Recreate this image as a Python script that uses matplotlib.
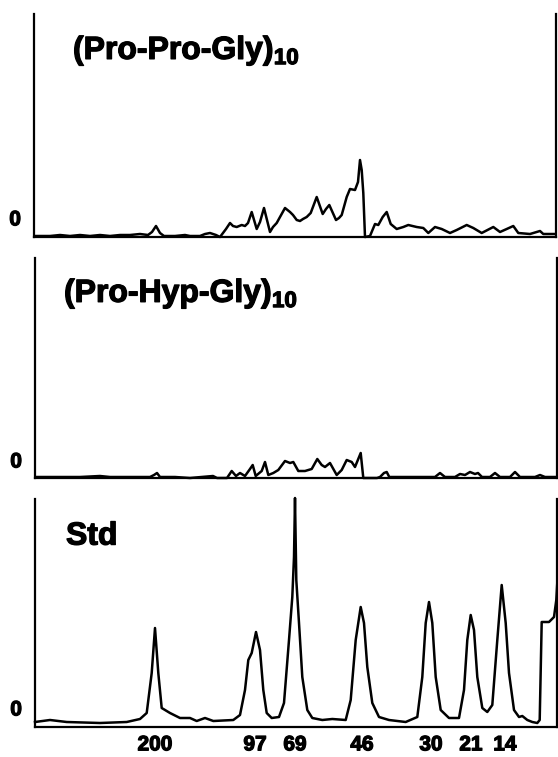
import matplotlib
matplotlib.use("Agg")
import matplotlib.pyplot as plt
import matplotlib.patheffects as pe

plt.rcParams['font.family'] = ['Liberation Sans', 'DejaVu Sans']
plt.rcParams['font.weight'] = 'bold'
plt.rcParams['mathtext.fontset'] = 'custom'
plt.rcParams['mathtext.rm'] = 'Liberation Sans:bold'
plt.rcParams['mathtext.bf'] = 'Liberation Sans:bold'

# densitometer traces: migration position, absorbance height
ppg_x = [36, 50, 60, 70, 80, 90, 100, 110, 120, 130, 140, 148, 152, 156, 160, 164, 175, 185, 190,
         200, 205, 210, 216, 220, 226, 230, 233, 236.7, 241.7, 245, 248, 251.7, 256.7, 260, 264,
         270, 273, 276.7, 280, 285, 290, 293, 296.7, 300, 303, 306.7, 310.7, 316.7, 322.7, 326,
         329.3, 336, 339, 341.7, 346.7, 350, 355, 358, 360, 361.7, 363.3, 365, 370, 375, 378.3,
         382.7, 386.7, 390.7, 396.7, 403.3, 408.3, 416.7, 423.3, 428.3, 435, 441.7, 450, 456.7,
         466.7, 473.3, 481.7, 493.3, 500, 506.7, 513.3, 518.3, 530, 540, 543.3, 555]
ppg_y = [1, 1, 2, 1, 2, 1, 2, 1, 2, 2, 3, 2, 5, 11, 4, 1, 1, 2, 1,
         1, 3, 4, 2, 0, 8, 14, 11, 10, 12, 11, 14, 25, 8, 15, 29,
         5, 10, 14, 20, 29, 25, 22, 17, 16, 18, 20, 24, 40, 23, 28,
         32, 17, 19, 22, 40, 48, 47, 55, 77, 67, 44, 0, 1, 13, 12,
         20, 25, 13, 8, 10, 12, 10, 9, 4, 10, 8, 4, 7,
         12, 9, 4, 10, 5, 8, 11, 4, 3, 6, 3, 3]

phg_x = [36, 60, 80, 100, 110, 130, 150, 154, 157, 160, 175, 190,
         213, 217, 227, 231.7, 236, 240, 245, 250, 252.7, 255.7, 261.7, 265, 268.3, 273.3, 278.3,
         285, 290, 293.3, 298.3, 305, 311.7, 317.3, 321.7, 325, 330, 336.7, 341.7, 346.7, 351.7,
         355, 360.7, 363.3, 377, 380, 384, 386.7, 389.3, 400, 420, 435, 440, 445, 455, 460, 465,
         470, 475, 478, 482, 490, 495, 500, 510, 515, 520, 535, 540, 545, 556]
phg_y = [1, 1, 1, 2, 1, 1, 1, 3, 5, 1, 1, 0,
         2, 0, 0, 7, 2, 5, 2, 9, 13, 2, 7, 16, 3, 5, 8,
         17, 15, 16, 7, 7, 9, 19, 13, 11, 15, 3, 8, 18, 16,
         11, 25, 0, 0, 1, 5, 6, 1, 1, 1, 1, 5, 1, 1, 4, 3,
         6, 4, 5, 1, 1, 5, 1, 1, 6, 1, 1, 3, 1, 1]

std_x = [35, 50, 66.7, 100, 126.7, 140, 146.7, 151.7, 155, 158.3, 161.7, 170, 180, 190, 196.7,
         205, 213.3, 233.3, 240, 245, 248.3, 251.7, 256, 260, 263.3, 266.7, 271.7, 279, 284, 289,
         292.3, 294, 295, 296.3, 299, 302.3, 307.3, 312.3, 322.3, 332.3, 345.7, 350.7, 355.7,
         360.7, 364, 367.3, 372.3, 379, 389, 405.7, 417.3, 422.3, 425.7, 429, 432.3, 435.7,
         440.7, 449, 459, 464, 467.3, 470.7, 474, 477.3, 482.3, 487.3, 492.3, 497.3, 501.7,
         505.7, 509, 514, 519, 522.3, 527.3, 532.3, 537.3, 539.7, 541.7, 549, 554, 556.3, 558]
std_y = [5, 7, 5, 4, 5, 8, 14, 54, 99, 54, 19, 14, 9, 9, 6,
         9, 6, 7, 12, 37, 67, 74, 95, 77, 37, 14, 9, 10, 24, 87,
         130, 170, 229, 147, 104, 50, 17, 9, 7, 8, 7, 27, 87,
         120, 104, 60, 24, 10, 7, 5, 10, 50, 104, 125, 104, 50,
         17, 9, 9, 37, 87, 112, 97, 50, 19, 15, 22, 87, 142,
         104, 54, 17, 10, 11, 7, 5, 4, 7, 105, 105, 110, 127, 157]

marker_pos = [155, 255, 295, 362, 431, 471, 505]
marker_kda = ['200', '97', '69', '46', '30', '21', '14']

panels = [
    ('(Pro-Pro-Gly)$_{\\mathbf{10}}$', ppg_x, ppg_y, 0.0747, 0.798, 0.077),
    ('(Pro-Hyp-Gly)$_{\\mathbf{10}}$', phg_x, phg_y, 0.0556, 0.80, 0.073),
    ('Std', std_x, std_y, 0.0594, 0.80, 0.075),
]

W, H = 558, 757
fig = plt.figure(figsize=(W / 100, H / 100), dpi=100)
heavy = [pe.withStroke(linewidth=0.9, foreground='black')]

# axes boxes in pixels: left, right, top, bottom
boxes = [(34, 556, 14, 237), (35, 557, 258, 478), (35, 557, 499, 727)]

for (title, xs, ys, tx, ty, zy), (l, r, t, b) in zip(panels, boxes):
    ax = fig.add_axes([l / W, 1 - b / H, (r - l) / W, (b - t) / H])
    ax.plot(xs, ys, color='black', lw=1.8, clip_on=False,
            solid_joinstyle='round')
    ax.set_xlim(l, r)
    ax.set_ylim(0, b - t)
    for s in ['left', 'bottom', 'right']:
        ax.spines[s].set_linewidth(1.6)
    ax.spines['top'].set_visible(False)
    ax.set_yticks([])
    ax.set_xticks([])
    ax.text(tx, ty, title, transform=ax.transAxes, fontsize=23,
            fontweight='bold', ha='left', va='baseline', path_effects=heavy)
    ax.text(-0.025, zy, '0', transform=ax.transAxes, fontsize=15,
            fontweight='bold', ha='right', va='center', path_effects=heavy)

ax.set_xticks(marker_pos)
ax.set_xticklabels(marker_kda, fontsize=15, fontweight='bold')
for lbl in ax.get_xticklabels():
    lbl.set_path_effects(heavy)
ax.tick_params(axis='x', length=0, pad=6)

fig.savefig('out.png', dpi=100)
